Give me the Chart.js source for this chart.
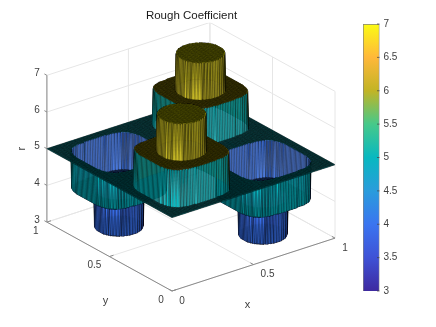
<!DOCTYPE html>
<html>
<head>
<meta charset="utf-8">
<style>
  html, body { margin: 0; padding: 0; background: #fff; }
  canvas { position: absolute; top: 0; }
  #surfaceChart { left: 0; }
  #colorbarChart { left: 340px; }
</style>
<script src="https://cdn.jsdelivr.net/npm/chart.js@4/dist/chart.umd.js"></script>
</head>
<body>
<canvas id="surfaceChart" width="383" height="327"></canvas>
<canvas id="colorbarChart" width="96" height="327"></canvas>
<script>
const xTicks = [0, 0.5, 1];
const yTicks = [0, 0.5, 1];
const rTicks = [3, 4, 5, 6, 7];
const colorbarTicks = [3, 3.5, 4, 4.5, 5, 5.5, 6, 6.5, 7];
const colorbarColors = ["#3e2aa0", "#3f52d6", "#3a75f0", "#2a9cdc", "#08b8c0",
  "#46c98a", "#c2b425", "#ffb83a", "#fbfb14"];

// surface is read on a 201 x 201 grid, four pads sit on a plate at r = 5
const gridSteps = 200;
const plateLevel = 5;
const padCols = [50, 150, 50, 150];
const padRows = [50, 50, 150, 150];
const padStepLevels = [6, 4, 4, 6];
const padCapLevels = [7, 3, 3, 7];
// half width of each pad (grid steps) per row away from its centre
const stepHalfWidths = [39, 39, 39, 39, 39, 39, 39, 39, 39, 39, 39, 39, 39, 39, 39, 39, 39, 39, 39, 38,
  38, 38, 38, 38, 37, 37, 37, 36, 36, 35, 35, 34, 33, 32, 31, 30, 28, 25, 22, 12];
const capHalfWidths = [23, 23, 23, 23, 23, 23, 23, 22, 22, 22, 21, 21, 20, 20, 19, 18, 17, 16, 15, 14, 12, 11, 8, 5];

const azimuth = -37.5 * Math.PI / 180;
const elevation = 25 * Math.PI / 180;
const boxHeight = 0.788;
const pxPerUnit = 205.5;
const originPx = { x: 172, y: 291 };
const titleBottom = 22.8;
const canvasWidth = 383;

const project = (x, y, r) => ({
  x: Math.cos(azimuth) * x + Math.sin(azimuth) * y,
  y: Math.sin(elevation) * (-Math.sin(azimuth) * x + Math.cos(azimuth) * y) +
    Math.cos(elevation) * boxHeight * (r - 3) / 4
});

const levelAt = (col, row) => {
  let level = plateLevel;
  padCols.forEach((padCol, p) => {
    const dCol = Math.abs(col - padCol);
    const dRow = Math.abs(row - padRows[p]);
    if (dRow < stepHalfWidths.length && dCol <= stepHalfWidths[dRow]) level = padStepLevels[p];
    if (dRow < capHalfWidths.length && dCol <= capHalfWidths[dRow]) level = padCapLevels[p];
  });
  return level;
};

const levels = [];
const vertices = [];
for (let col = 0; col <= gridSteps; col++) {
  for (let row = 0; row <= gridSteps; row++) {
    const level = levelAt(col, row);
    levels.push(level);
    vertices.push(project(col / gridSteps, row / gridSteps, level));
  }
}

// draws the grid as surf does: back to front, face colour from its lowest index corner
class SurfaceController extends Chart.ScatterController {
  draw() {
    const ctx = this.chart.ctx;
    const pts = this.getMeta().data;
    const n = gridSteps + 1;
    const ds = this.getDataset();
    ctx.save();
    ctx.strokeStyle = "#000";
    ctx.lineJoin = "bevel";
    for (let col = gridSteps - 1; col >= 0; col--) {
      for (let row = gridSteps - 1; row >= 0; row--) {
        const ia = col * n + row;
        const a = pts[ia];
        const b = pts[ia + n];
        const c = pts[ia + n + 1];
        const d = pts[ia + 1];
        const flat = levels[ia] === levels[ia + n] && levels[ia] === levels[ia + n + 1] && levels[ia] === levels[ia + 1];
        ctx.beginPath();
        ctx.moveTo(a.x, a.y);
        ctx.lineTo(b.x, b.y);
        ctx.lineTo(c.x, c.y);
        ctx.lineTo(d.x, d.y);
        ctx.closePath();
        ctx.fillStyle = colorbarColors[colorbarTicks.indexOf(levels[ia])];
        ctx.fill();
        // walls keep every other edge so their stripes stay readable
        if (flat) {
          ctx.lineWidth = ds.edgeWidth;
          ctx.stroke();
        } else if ((col + row) % 2 === 0) {
          ctx.lineWidth = ds.wallEdgeWidth;
          ctx.stroke();
        }
      }
    }
    ctx.restore();
  }
}
SurfaceController.id = "surface";
SurfaceController.defaults = Chart.ScatterController.defaults;
Chart.register(SurfaceController);

const gap = { x: NaN, y: NaN };
const gridPoints = [];
const axisPoints = [];
const addLine = (list, a, b) => list.push(project(...a), project(...b), gap);

rTicks.forEach(r => {
  addLine(gridPoints, [0, 1, r], [1, 1, r]);
  addLine(gridPoints, [1, 1, r], [1, 0, r]);
  addLine(axisPoints, [0, 1, r], [0, 1.02, r]);
});
xTicks.forEach(x => {
  addLine(gridPoints, [x, 1, 3], [x, 1, 7]);
  addLine(gridPoints, [x, 0, 3], [x, 1, 3]);
  addLine(axisPoints, [x, 0, 3], [x, 0.025, 3]);
});
yTicks.forEach(y => {
  addLine(gridPoints, [1, y, 3], [1, y, 7]);
  addLine(gridPoints, [0, y, 3], [1, y, 3]);
  addLine(axisPoints, [0, y, 3], [0.025, y, 3]);
});
addLine(axisPoints, [0, 1, 3], [0, 1, 7]);
addLine(axisPoints, [0, 1, 3], [0, 0, 3]);
addLine(axisPoints, [0, 0, 3], [1, 0, 3]);

const axisText = {
  id: "axisText",
  afterDraw(chart) {
    const { ctx, scales } = chart;
    const at = (p, dx, dy) => ({ x: scales.x.getPixelForValue(p.x) + dx, y: scales.y.getPixelForValue(p.y) + dy });
    const put = (text, pos) => ctx.fillText(text, pos.x, pos.y);
    ctx.save();
    ctx.font = "10px 'Liberation Sans'";
    ctx.fillStyle = "#404040";
    ctx.textAlign = "center";
    ctx.textBaseline = "middle";
    xTicks.forEach(x => put(String(x), at(project(x, 0, 3), x === 0.5 ? 14 : 10, 10)));
    yTicks.forEach(y => put(String(y), at(project(0, y, 3), y === 0.5 ? -15 : -11, 9)));
    ctx.textAlign = "right";
    rTicks.forEach(r => put(String(r), at(project(0, 1, r), -7, -2)));
    ctx.textAlign = "center";
    ctx.font = "11px 'Liberation Sans'";
    put("x", at(project(0.5, 0, 3), -6, 40));
    put("y", at(project(0, 0.5, 3), -4, 44));
    const rPos = at(project(0, 1, 5), -25, 0);
    ctx.translate(rPos.x, rPos.y);
    ctx.rotate(-Math.PI / 2);
    ctx.fillText("r", 0, 0);
    ctx.restore();
  }
};

new Chart(document.getElementById("surfaceChart"), {
  type: "scatter",
  data: {
    datasets: [
      { type: "surface", label: "r", data: vertices, edgeWidth: 0.36, wallEdgeWidth: 0.42, order: 0, parsing: false, pointRadius: 0 },
      { label: "axes", data: axisPoints, showLine: true, borderColor: "#8a8a8a", borderWidth: 1, pointRadius: 0, order: 1 },
      { label: "grid", data: gridPoints, showLine: true, borderColor: "#e6e6e6", borderWidth: 1, pointRadius: 0, order: 2 }
    ]
  },
  options: {
    responsive: false,
    animation: false,
    events: [],
    layout: { padding: 0 },
    scales: {
      x: { display: false, min: -originPx.x / pxPerUnit, max: (canvasWidth - originPx.x) / pxPerUnit },
      y: { display: false, min: (originPx.y - 327) / pxPerUnit, max: (originPx.y - titleBottom) / pxPerUnit }
    },
    plugins: {
      legend: { display: false },
      tooltip: { enabled: false },
      title: {
        display: true,
        text: "Rough Coefficient",
        color: "#1a1a1a",
        font: { family: "'Liberation Sans'", size: 11.5, weight: "normal", lineHeight: 1.2 },
        padding: { top: 9, bottom: 0 }
      }
    }
  },
  plugins: [axisText]
});

const innerTicks = {
  id: "innerTicks",
  afterDraw(chart) {
    const { ctx, chartArea, scales } = chart;
    ctx.save();
    ctx.strokeStyle = "#404040";
    ctx.lineWidth = 0.7;
    colorbarTicks.forEach(v => {
      const y = scales.y.getPixelForValue(v);
      ctx.beginPath();
      ctx.moveTo(chartArea.right - 2.5, y);
      ctx.lineTo(chartArea.right, y);
      ctx.stroke();
    });
    ctx.restore();
  }
};

new Chart(document.getElementById("colorbarChart"), {
  type: "bar",
  data: {
    labels: ["r"],
    datasets: [{
      data: [[colorbarTicks[0], colorbarTicks[colorbarTicks.length - 1]]],
      barPercentage: 1,
      categoryPercentage: 1,
      borderColor: "#808080",
      borderWidth: 1,
      backgroundColor: context => {
        const { chart } = context;
        if (!chart.chartArea) return colorbarColors[0];
        const y = chart.scales.y;
        const grad = chart.ctx.createLinearGradient(0, y.getPixelForValue(3), 0, y.getPixelForValue(7));
        colorbarColors.forEach((c, i) => grad.addColorStop(i / (colorbarColors.length - 1), c));
        return grad;
      }
    }]
  },
  options: {
    responsive: false,
    animation: false,
    events: [],
    layout: { padding: { left: 23, right: 0, top: 24, bottom: 36 } },
    scales: {
      x: { display: false },
      y: {
        position: "right",
        min: 3,
        max: 7,
        afterFit: scale => { scale.width = 56.5; },
        afterBuildTicks: scale => { scale.ticks = colorbarTicks.map(value => ({ value })); },
        border: { display: false },
        grid: { display: false, drawTicks: false, tickLength: 0 },
        ticks: {
          padding: 4,
          color: "#404040",
          font: { family: "'Liberation Sans'", size: 10 },
          callback: v => String(v)
        }
      }
    },
    plugins: { legend: { display: false }, tooltip: { enabled: false } }
  },
  plugins: [innerTicks]
});
</script>
</body>
</html>
